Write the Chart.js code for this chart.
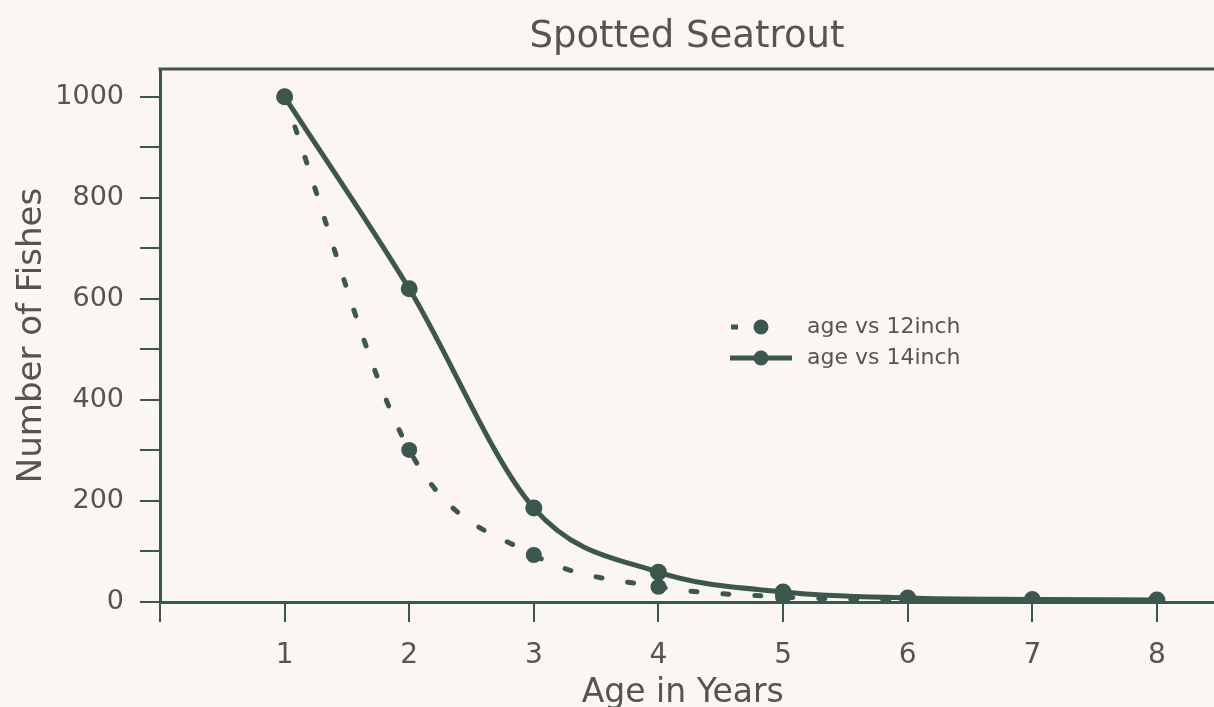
<!DOCTYPE html>
<html>
<head>
<meta charset="utf-8">
<script src="https://cdn.jsdelivr.net/npm/chart.js@4"></script>
<style>
  html, body { margin: 0; padding: 0; background: #fbf6f1; }
  #wrap { width: 1214px; height: 707px; }
</style>
</head>
<body>
<div id="wrap"><canvas id="chart"></canvas></div>
<script>
const ages = [1, 2, 3, 4, 5, 6, 7, 8];
const fish12inch = [1000, 301, 93, 30, 10, 4, 2, 1];
const fish14inch = [1000, 620, 186, 59, 20, 8, 5, 4];
const seriesLabels = ['age vs 12inch', 'age vs 14inch'];

const ink = '#3c574d';
const textColor = '#545454';
const font = '"DejaVu Sans", "Liberation Sans", sans-serif';

const toPoints = (vals) => vals.map((v, i) => ({ x: ages[i], y: v }));

// title centred over the plot, frame lines running off the right edge, in-plot legend
const decorations = {
  id: 'decorations',
  afterDraw(chart) {
    const { ctx, chartArea } = chart;
    const xs = chart.scales.x;
    const axisY = Math.round(xs.top - 1.5) + 1.5;
    ctx.save();
    ctx.strokeStyle = ink;
    ctx.lineWidth = 3;
    ctx.beginPath();
    ctx.moveTo(chartArea.left - 1.5, chartArea.top);
    ctx.lineTo(chart.width, chartArea.top);
    ctx.moveTo(chartArea.right - 4, axisY);
    ctx.lineTo(chart.width, axisY);
    ctx.stroke();

    ctx.fillStyle = textColor;
    ctx.font = '37px ' + font;
    ctx.textAlign = 'center';
    ctx.textBaseline = 'alphabetic';
    ctx.fillText('Spotted Seatrout', (chartArea.left + chart.width) / 2, 47);

    const rows = [327, 358];
    chart.data.datasets.forEach((ds, i) => {
      const y = rows[i];
      ctx.strokeStyle = ink;
      ctx.lineWidth = ds.borderWidth;
      ctx.lineCap = 'butt';
      ctx.beginPath();
      if (ds.borderDash && ds.borderDash.length) {
        ctx.moveTo(731, y); ctx.lineTo(738, y);
      } else {
        ctx.moveTo(730, y); ctx.lineTo(792, y);
      }
      ctx.stroke();
      ctx.fillStyle = ink;
      ctx.beginPath();
      ctx.arc(761, y, 7.5, 0, Math.PI * 2);
      ctx.fill();
      ctx.fillStyle = textColor;
      ctx.font = '22px ' + font;
      ctx.textAlign = 'left';
      ctx.textBaseline = 'middle';
      ctx.fillText(ds.label, 807, y);
    });
    ctx.restore();
  }
};

new Chart(document.getElementById('chart'), {
  type: 'line',
  data: {
    datasets: [
      {
        label: seriesLabels[0],
        data: toPoints(fish12inch),
        borderColor: ink,
        backgroundColor: ink,
        borderWidth: 5,
        borderDash: [6, 26],
        borderCapStyle: 'round',
        cubicInterpolationMode: 'monotone',
        pointRadius: 8,
        pointBorderWidth: 0,
        order: 2
      },
      {
        label: seriesLabels[1],
        data: toPoints(fish14inch),
        borderColor: ink,
        backgroundColor: ink,
        borderWidth: 5,
        cubicInterpolationMode: 'monotone',
        pointRadius: 8.5,
        pointBorderWidth: 0,
        order: 1
      }
    ]
  },
  options: {
    responsive: true,
    maintainAspectRatio: false,
    animation: false,
    layout: { padding: { top: 69, right: 0, left: 0, bottom: 0 } },
    plugins: {
      legend: { display: false },
      title: { display: false },
      tooltip: { enabled: false }
    },
    scales: {
      x: {
        type: 'linear',
        min: 0,
        max: 8.39,
        afterFit(scale) { scale.height = 105; },
        border: { color: ink, width: 3 },
        grid: { drawOnChartArea: false, color: ink, lineWidth: 2, tickLength: 20 },
        ticks: {
          stepSize: 1,
          includeBounds: false,
          padding: 17,
          color: textColor,
          font: { family: font, size: 28 },
          callback: (v) => (v === 0 ? '' : v)
        },
        title: {
          display: true,
          text: 'Age in Years',
          color: textColor,
          font: { family: font, size: 33 },
          padding: { top: 0, bottom: -6 }
        }
      },
      y: {
        min: 0,
        max: 1055,
        afterFit(scale) { scale.width = 160; },
        border: { color: ink, width: 3 },
        grid: { drawOnChartArea: false, color: ink, lineWidth: 2, tickLength: 20 },
        ticks: {
          stepSize: 100,
          includeBounds: false,
          padding: 16,
          color: textColor,
          font: { family: font, size: 27 },
          callback: (v) => (v % 200 === 0 ? v : '')
        },
        title: {
          display: true,
          text: 'Number of Fishes',
          color: textColor,
          font: { family: font, size: 34 },
          padding: { top: 12, bottom: 0 }
        }
      }
    }
  },
  plugins: [decorations]
});
</script>
</body>
</html>
